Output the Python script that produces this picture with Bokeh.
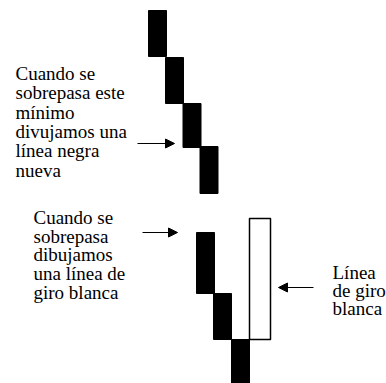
from bokeh.plotting import figure
from bokeh.models import Range1d, Arrow, NormalHead
from bokeh.core.properties import value
from bokeh.embed import file_html
from bokeh.resources import INLINE

# Line-break columns: centre position, top and bottom "price"
col_x = [157, 174, 191.5, 208.5, 205, 222, 240]
col_top = [373, 326, 280, 237, 151, 90, 44]
col_bottom = [327, 280, 236, 190, 90, 44, 0]
white_x = [259.5]
white_top = [165]
white_bottom = [44]

label1 = ["Cuando se", "sobrepasa este", "mínimo", "divujamos una", "línea negra", "nueva"]
label2 = ["Cuando se", "sobrepasa", "dibujamos", "una línea de", "giro blanca"]
label3 = ["Línea", "de giro", "blanca"]

p = figure(width=386, height=383, output_backend="svg", toolbar_location=None,
           x_range=Range1d(0, 386), y_range=Range1d(0, 383), min_border=0)
p.axis.visible = False
p.grid.visible = False
p.outline_line_color = None
p.background_fill_color = "white"

p.vbar(x=col_x, width=18, top=col_top, bottom=col_bottom,
       fill_color="black", line_color="black", line_width=1)
p.vbar(x=white_x, width=21, top=white_top, bottom=white_bottom,
       fill_color="white", line_color="black", line_width=1.5)

def block(lines, x0, y0, dy):
    ys = [y0 - i * dy for i in range(len(lines))]
    p.text(x=[x0] * len(lines), y=ys, text=lines, text_font=value("Liberation Serif"),
           text_font_size="19px", text_baseline="alphabetic", text_align="left",
           text_color="black")

block(label1, 15, 383 - 73, 19.3)
block(label2, 33, 383 - 217, 18.7)
block(label3, 332, 383 - 272, 18)

def arrow(x0, x1, y):
    p.add_layout(Arrow(end=NormalHead(size=9, fill_color="black", line_color="black"),
                       x_start=x0, y_start=383 - y, x_end=x1, y_end=383 - y,
                       line_width=1.2, line_color="black"))

arrow(137, 174, 143)
arrow(142, 177, 232)
arrow(313, 278, 287)

open("out.html", "w").write(file_html(p, INLINE))
